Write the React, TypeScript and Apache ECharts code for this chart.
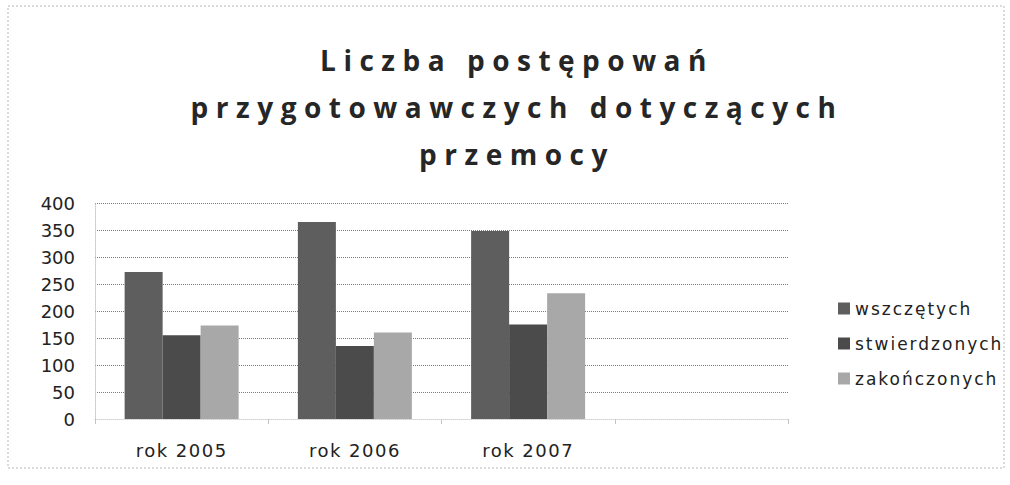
import React, { useEffect, useRef } from "react";
import * as echarts from "echarts";

const titleLines = ["Liczba postępowań", "przygotowawczych dotyczących", "przemocy"];
const categories = ["rok 2005", "rok 2006", "rok 2007", ""];
const seriesNames = ["wszczętych", "stwierdzonych", "zakończonych"];
const wszczetych = [272, 365, 348];
const stwierdzonych = [155, 135, 175];
const zakonczonych = [173, 160, 233];
const yTicks = [0, 50, 100, 150, 200, 250, 300, 350, 400];
const colors = ["#5e5e5e", "#4b4b4b", "#a8a8a8"];

export default function App() {
  const ref = useRef<HTMLDivElement>(null);
  useEffect(() => {
    if (!ref.current) return;
    const el = ref.current;
    const chart = echarts.init(el, undefined, { renderer: "svg" });
    const font = "'DejaVu Sans', sans-serif";
    const titleFont = "'Open Sans', sans-serif";
    const values = [wszczetych, stwierdzonych, zakonczonych];
    chart.setOption({
      animation: false,
      backgroundColor: "#ffffff",
      textStyle: { fontFamily: font },
      title: {
        text: titleLines.join("\n"),
        left: 512,
        top: 31,
        textAlign: "center",
        textStyle: {
          fontFamily: titleFont,
          fontSize: 28,
          fontWeight: "bold",
          color: "#262626",
          lineHeight: 47,
        },
      },
      legend: {
        orient: "vertical",
        left: 833,
        top: 295,
        itemWidth: 12,
        itemHeight: 12,
        itemGap: 18,
        icon: "rect",
        data: seriesNames,
        textStyle: { fontFamily: font, fontSize: 17, color: "#222" },
      },
      grid: { left: 95, right: 222, top: 203, bottom: 66, containLabel: false },
      xAxis: {
        type: "category",
        data: categories,
        axisLine: { show: true, lineStyle: { color: "#d2d2d2", width: 1, type: "dotted" } },
        axisTick: { show: true, lineStyle: { color: "#c4c4c4" }, length: 5 },
        axisLabel: { fontFamily: font, fontSize: 18, color: "#222", margin: 22 },
      },
      yAxis: {
        type: "value",
        min: yTicks[0],
        max: yTicks[yTicks.length - 1],
        interval: 50,
        axisLine: { show: true, lineStyle: { color: "#c8c8c8", type: "dotted" } },
        axisTick: { show: false },
        axisLabel: { fontFamily: font, fontSize: 18, color: "#222", margin: 20 },
        splitLine: { show: true, lineStyle: { color: "#7a7a7a", type: "dotted", width: 1 } },
      },
      series: seriesNames.map((name, i) => ({
        name,
        type: "bar",
        data: values[i],
        barWidth: 38,
        barGap: "0%",
        itemStyle: { color: colors[i] },
      })),
      graphic: [
        {
          type: "rect",
          shape: { x: 8, y: 6, width: 996, height: 462 },
          style: { fill: "none", stroke: "#b5b5b5", lineWidth: 1, lineDash: [2, 2] },
          silent: true,
        },
      ],
    });
    const applySpacing = () => {
      el.querySelectorAll("text").forEach((t) => {
        const s = (t.textContent || "").trim();
        if (titleLines.includes(s)) t.setAttribute("letter-spacing", "7.5");
        else if (seriesNames.includes(s)) t.setAttribute("letter-spacing", "2");
        else if (categories.includes(s) && s !== "") t.setAttribute("letter-spacing", "1.5");
      });
    };
    applySpacing();
    chart.on("rendered", applySpacing);
    const timer = setTimeout(applySpacing, 50);
    return () => {
      clearTimeout(timer);
      chart.dispose();
    };
  }, []);
  return (
    <div
      ref={ref}
      style={{ position: "fixed", left: 0, top: 0, width: 1010, height: 485 }}
    />
  );
}
